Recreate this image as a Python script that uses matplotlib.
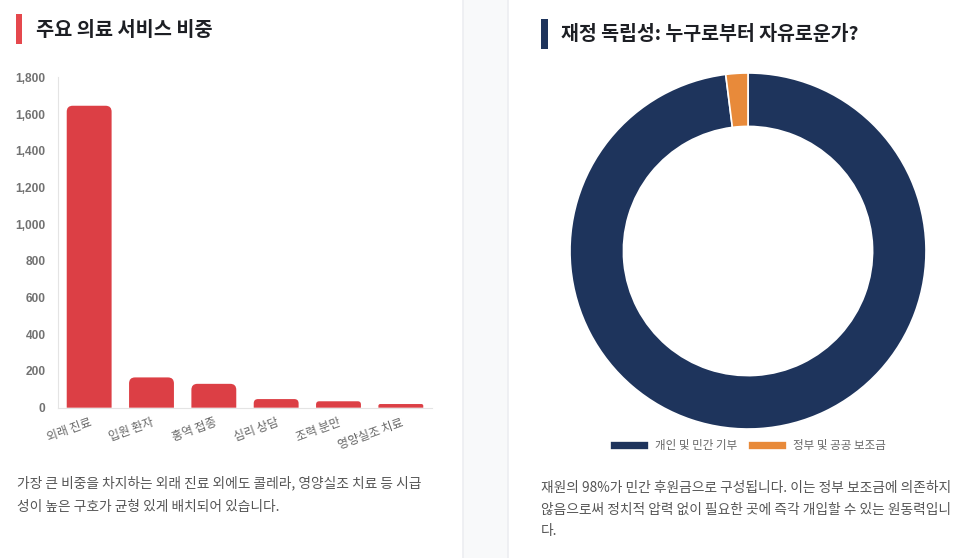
import matplotlib

matplotlib.use("Agg")
import matplotlib.pyplot as plt
from matplotlib.patches import Rectangle, PathPatch
from matplotlib.path import Path

plt.rcParams["font.family"] = ["Noto Sans CJK KR", "DejaVu Sans"]

# ---- data -------------------------------------------------------------
services = ["외래 진료", "입원 환자", "홍역 접종", "심리 상담", "조력 분만", "영양실조 치료"]
service_counts = [1645, 165, 130, 47, 35, 20]
y_ticks = [0, 200, 400, 600, 800, 1000, 1200, 1400, 1600, 1800]

funding_labels = ["개인 및 민간 기부", "정부 및 공공 보조금"]
funding_share = [98, 2]

left_title = "주요 의료 서비스 비중"
right_title = "재정 독립성: 누구로부터 자유로운가?"
left_note = ["가장 큰 비중을 차지하는 외래 진료 외에도 콜레라, 영양실조 치료 등 시급",
             "성이 높은 구호가 균형 있게 배치되어 있습니다."]
right_note = ["재원의 98%가 민간 후원금으로 구성됩니다. 이는 정부 보조금에 의존하지",
              "않음으로써 정치적 압력 없이 필요한 곳에 즉각 개입할 수 있는 원동력입니",
              "다."]

RED = "#dc3f45"
NAVY = "#1e345c"
ORANGE = "#e88a3a"
W, H = 975, 558


def fx(px):
    return px / W


def fy(py):
    return 1 - py / H


def rounded_top(x0, w, h, rx, ry):
    """Bar outline with rounded top corners only (Chart.js borderRadius look)."""
    x1 = x0 + w
    verts = [(x0, 0), (x0, h - ry), (x0, h), (x0 + rx, h), (x1 - rx, h), (x1, h),
             (x1, h - ry), (x1, 0), (x0, 0)]
    codes = [Path.MOVETO, Path.LINETO, Path.CURVE3, Path.CURVE3, Path.LINETO,
             Path.CURVE3, Path.CURVE3, Path.LINETO, Path.CLOSEPOLY]
    return Path(verts, codes)


fig = plt.figure(figsize=(W / 100, H / 100), dpi=100, facecolor="white")

# gutter between the two cards
fig.patches.append(Rectangle((fx(463), 0), fx(508 - 463), 1, transform=fig.transFigure,
                             facecolor="#f8f9fa", edgecolor="none", zorder=0))
for xe in (463, 508):
    fig.add_artist(plt.Line2D([fx(xe), fx(xe)], [0, 1], color="#eceef1", lw=1.2))

# card titles with accent bars
fig.patches.append(Rectangle((fx(16), fy(44)), fx(6), 30 / H, transform=fig.transFigure,
                             facecolor="#e5484d", edgecolor="none"))
fig.text(fx(36), fy(30), left_title, fontsize=14.2, fontweight="bold", color="#1d1f24",
         va="center", ha="left")
fig.patches.append(Rectangle((fx(541), fy(49)), fx(7), 30 / H, transform=fig.transFigure,
                             facecolor=NAVY, edgecolor="none"))
fig.text(fx(561), fy(35), right_title, fontsize=14, fontweight="bold", color="#1d1f24",
         va="center", ha="left")

# ---- left: bar chart ---------------------------------------------------
ax = fig.add_axes([fx(58), fy(407.7), fx(432 - 58), (407.7 - 77.3) / H])
bars = ax.bar(range(len(services)), service_counts, width=0.72, color=RED)
ax.set_xlim(-0.5, len(services) - 0.5)
ax.set_ylim(0, 1800)

px_per_x = ax.get_position().width * W / len(services)
units_per_px = 1800 / (ax.get_position().height * H)
for b in bars:
    b.set_visible(False)
    h = b.get_height()
    r_px = min(6, h / units_per_px / 2)
    ax.add_patch(PathPatch(rounded_top(b.get_x(), b.get_width(), h,
                                       r_px / px_per_x, r_px * units_per_px),
                           facecolor=RED, edgecolor="none"))

ax.set_yticks(y_ticks)
ax.set_yticklabels([f"{v:,}" for v in y_ticks], family=["Liberation Sans", "DejaVu Sans"],
                   fontsize=8.6, fontweight="bold", color="#727272")
ax.set_xticks(range(len(services)))
ax.set_xticklabels(services, rotation=20, ha="right", rotation_mode="anchor",
                   fontsize=8.6, color="#666666")
ax.tick_params(axis="both", length=0, pad=9)
ax.tick_params(axis="x", pad=6)
for s in ("top", "right"):
    ax.spines[s].set_visible(False)
for s in ("left", "bottom"):
    ax.spines[s].set_color("#e4e4e4")
ax.set_facecolor("none")

for i, line in enumerate(left_note):
    fig.text(fx(17), fy(483.3 + i * 23.4), line, fontsize=9.9, color="#555555",
             va="center", ha="left")

# ---- right: donut ------------------------------------------------------
R = 178
axp = fig.add_axes([fx(748 - R), fy(251 + R), 2 * R / W, 2 * R / H])
wedges, _ = axp.pie(funding_share, colors=[NAVY, ORANGE], startangle=90, counterclock=False,
                    wedgeprops=dict(width=0.3, edgecolor="white", linewidth=1.2))
axp.set_xlim(-1, 1)
axp.set_ylim(-1, 1)
leg_y = (fy(446) - fy(251 + R)) * H / (2 * R)
axp.legend(wedges, funding_labels, loc="center", bbox_to_anchor=(0.5, leg_y),
           bbox_transform=axp.transAxes, ncol=2, frameon=False, fontsize=8.3,
           labelcolor="#666666", handlelength=3.4, handleheight=0.9,
           handletextpad=0.5, columnspacing=0.9)

for i, line in enumerate(right_note):
    fig.text(fx(541), fy(488 + i * 21.7), line, fontsize=9.9, color="#555555",
             va="center", ha="left")

fig.savefig("out.png", dpi=100, facecolor="white")
